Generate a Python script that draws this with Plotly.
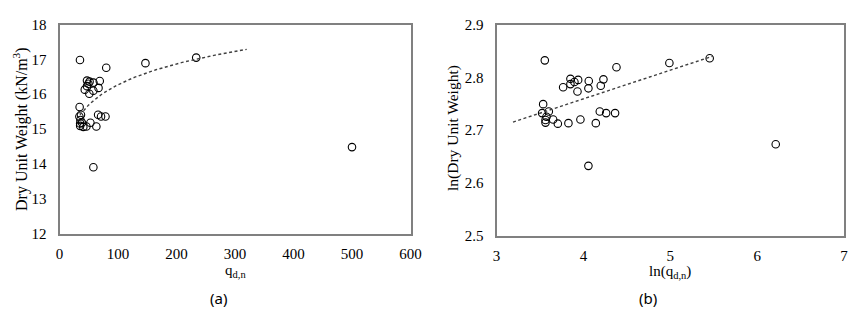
import numpy as np
import plotly.graph_objects as go

# Panel (a): q_d,n vs dry unit weight (kN/m3)
qdn = [35.0, 34.4, 34.0, 36.7, 35.7, 35.3, 35.3, 38.5, 40.7, 46.0, 52.8,
       43.2, 47.0, 47.0, 49.3, 51.4, 51.0, 58.1, 57.9, 57.9, 63.0, 66.0,
       66.7, 68.8, 71.0, 78.6, 79.9, 146.9, 233.7, 500.0]
dry_uw = [16.98, 15.63, 15.36, 15.41, 15.26, 15.16, 15.09, 15.18, 15.06, 15.07, 15.18,
          16.13, 16.39, 16.23, 16.30, 16.36, 16.01, 16.33, 16.10, 13.90, 15.07, 15.41,
          16.18, 16.38, 15.36, 15.36, 16.76, 16.89, 17.05, 14.48]

# Panel (b): ln(q_d,n) vs ln(dry unit weight)
ln_qdn = [3.556, 3.537, 3.525, 3.602, 3.575, 3.564, 3.564, 3.652, 3.706, 3.828, 3.966,
          3.767, 3.851, 3.851, 3.897, 3.940, 3.932, 4.062, 4.058, 4.058, 4.143, 4.189,
          4.200, 4.231, 4.262, 4.365, 4.381, 4.990, 5.454, 6.214]
ln_uw = [2.832, 2.749, 2.732, 2.735, 2.725, 2.719, 2.714, 2.720, 2.712, 2.713, 2.720,
         2.781, 2.797, 2.787, 2.791, 2.795, 2.773, 2.793, 2.779, 2.632, 2.713, 2.735,
         2.784, 2.796, 2.732, 2.732, 2.819, 2.827, 2.836, 2.673]

# Trendlines
trend_a_range = [35, 320]        # power trend y = A * q^d
trend_a_coef = [12.80, 0.0521]
trend_b_x = [3.19, 5.49]
trend_b_y = [2.715, 2.840]

qa = np.linspace(trend_a_range[0], trend_a_range[1], 80)
ya = trend_a_coef[0] * qa ** trend_a_coef[1]

serif = "Liberation Serif, Times New Roman, serif"
sans = "Noto Sans, Open Sans, sans-serif"
marker = dict(symbol="circle-open", size=7.5, color="black", line=dict(width=1.1, color="black"))
dash = dict(color="#404040", width=1.4, dash="3px,2.5px")

fig = go.Figure()
fig.add_trace(go.Scatter(x=qdn, y=dry_uw, mode="markers", marker=marker, xaxis="x", yaxis="y"))
fig.add_trace(go.Scatter(x=qa, y=ya, mode="lines", line=dash, xaxis="x", yaxis="y"))
fig.add_trace(go.Scatter(x=ln_qdn, y=ln_uw, mode="markers", marker=marker, xaxis="x2", yaxis="y2"))
fig.add_trace(go.Scatter(x=trend_b_x, y=trend_b_y, mode="lines", line=dash, xaxis="x2", yaxis="y2"))


def axis(**kw):
    d = dict(showgrid=False, zeroline=False, showline=True, mirror=True,
             linecolor="#808080", linewidth=2, ticks="", automargin=False,
             tickfont=dict(family=serif, size=15, color="black"))
    d.update(kw)
    return d


def ann(text, x, y, family, size, angle=0):
    return dict(text=text, x=x / 864, y=1 - y / 320, xref="paper", yref="paper",
                xanchor="center", yanchor="middle", textangle=angle,
                showarrow=False, font=dict(family=family, size=size, color="black"))


fig.update_layout(
    width=864, height=320, margin=dict(l=0, r=0, t=0, b=0, autoexpand=False),
    font=dict(family=serif, size=15, color="black"),
    paper_bgcolor="white", plot_bgcolor="white", showlegend=False,
    xaxis=axis(domain=[59.5/864, 410.5/864], range=[0, 600], tickvals=[0, 100, 200, 300, 400, 500, 600],
               anchor="y", ticklabelstandoff=5),
    yaxis=axis(domain=[1-233.5/320, 1-24.5/320], range=[12, 18], tickvals=[12, 13, 14, 15, 16, 17, 18],
               anchor="x", ticklabelstandoff=8),
    xaxis2=axis(domain=[496.5/864, 844/864], range=[3, 7], tickvals=[3, 4, 5, 6, 7],
                tickformat="d", anchor="y2", ticklabelstandoff=5),
    yaxis2=axis(domain=[1-235.5/320, 1-24.5/320], range=[2.5, 2.9], tickvals=[2.5, 2.6, 2.7, 2.8, 2.9],
                tickformat=".1f", anchor="x2", ticklabelstandoff=8),
    annotations=[
        ann("q<sub>d,n</sub>", 235, 271, serif, 15),
        ann("ln(q<sub>d,n</sub>)", 670, 272, serif, 15),
        ann("Dry Unit Weight (kN/m<sup>3</sup>)", 20, 129, serif, 16, -90),
        ann("ln(Dry Unit Weight)", 453, 128, serif, 15.5, -90),
        ann("(a)", 218, 298, sans, 15),
        ann("(b)", 648, 298, sans, 15),
    ],
)

fig.write_html("out.html")
